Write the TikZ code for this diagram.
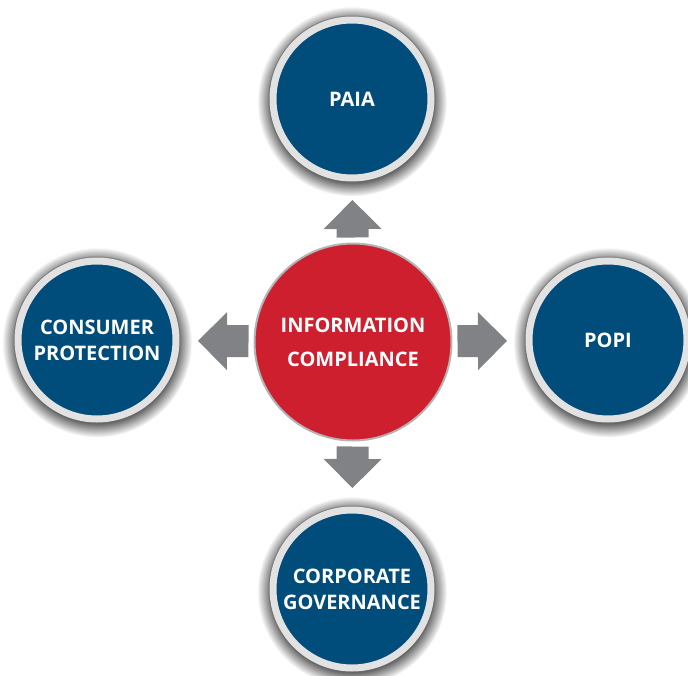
\documentclass[tikz,border=0pt]{standalone}
\usepackage{fontspec}
\setmainfont{Open Sans}
\usepackage{tikz}
\usetikzlibrary{arrows.meta,shadows}

\definecolor{hubred}{RGB}{205,31,46}
\definecolor{topicblue}{RGB}{0,76,123}
\definecolor{ringgrey}{RGB}{226,226,226}
\definecolor{rimgrey}{RGB}{180,180,180}
\definecolor{arrowgrey}{RGB}{128,130,133}

\begin{document}
\begin{tikzpicture}[x=1pt,y=-1pt,
    topic/.style={circle,fill=topicblue,draw=ringgrey,line width=7pt,
      minimum size=158pt,outer sep=5pt,text=white,align=center,
      font=\bfseries\fontsize{20}{26}\selectfont,
      preaction={draw=rimgrey,line width=9pt},
      circular drop shadow={shadow xshift=0pt,shadow yshift=-2pt,
        shadow scale=1.2,fill=black!60}},
    hub/.style={circle,fill=hubred,draw=rimgrey,line width=2pt,
      minimum size=197pt,outer sep=1pt,text=white,align=center,
      font=\bfseries\fontsize{20}{34}\selectfont},
    blockarrow/.style={color=arrowgrey,line width=32pt,
      -{Triangle[length=29pt,width=58pt,line width=0pt]},
      shorten <=5pt,shorten >=17pt}]
    \useasboundingbox (0,0) rectangle (688,675);
    \node[topic] (paia) at (352,99) {PAIA};
    \node[topic] (consumer) at (97,340) {CONSUMER\\PROTECTION};
    \node[topic] (popi) at (608,340) {POPI};
    \node[topic] (corporate) at (352,589) {CORPORATE\\GOVERNANCE};
    \node[hub] (info) at (353,342) {INFORMATION\\COMPLIANCE};
    \path[blockarrow] (info) edge (paia);
    \path[blockarrow] (info) edge (consumer);
    \path[blockarrow] (info) edge (popi);
    \path[blockarrow] (info) edge (corporate);
  \end{tikzpicture}
\end{document}
